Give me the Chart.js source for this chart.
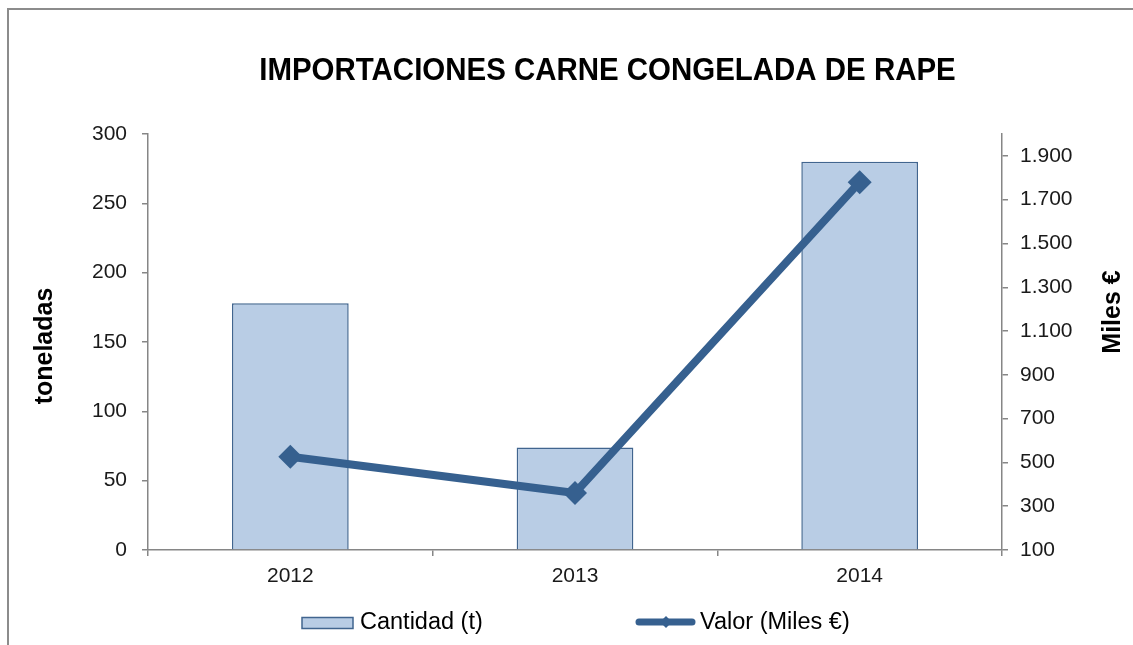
<!DOCTYPE html>
<html><head><meta charset="utf-8">
<script src="https://cdn.jsdelivr.net/npm/chart.js@4"></script>
<style>html,body{margin:0;padding:0;background:#fff}#wrap{width:1133px;height:645px}</style>
</head><body><div id="wrap"><canvas id="c" width="1133" height="645"></canvas></div>
<script>
const categories = ['2012', '2013', '2014'];
const cantidad = [178, 74, 280];
const valor = [526, 360, 1780];
const leftTicks = {min: 0, max: 300, step: 50};
const rightRange = {min: 100, max: 2000};
const rightTickValues = [100, 300, 500, 700, 900, 1100, 1300, 1500, 1700, 1900];
const titleText = 'IMPORTACIONES CARNE CONGELADA DE RAPE';
const leftAxisTitle = 'toneladas';
const rightAxisTitle = 'Miles €';
const seriesNames = ['Cantidad (t)', 'Valor (Miles €)'];

const FONT = "'Liberation Sans', Arial, sans-serif";
const AXIS = '#868686';
const TXT = '#1a1a1a';
const BAR_FILL = '#B9CDE5';
const BAR_BORDER = '#41658F';
const LINE = '#36608F';

function fmt(v) { return String(v).replace(/\B(?=(\d{3})+(?!\d))/g, '.'); }

const deco = {
  id: 'deco',
  beforeDraw(chart) {
    const ctx = chart.ctx;
    ctx.save();
    ctx.fillStyle = '#fff';
    ctx.fillRect(0, 0, chart.width, chart.height);
    ctx.strokeStyle = '#8c8c8c';
    ctx.lineWidth = 2;
    ctx.beginPath();
    ctx.moveTo(8, chart.height);
    ctx.lineTo(8, 9);
    ctx.lineTo(chart.width, 9);
    ctx.stroke();
    ctx.restore();
  },
  afterDraw(chart) {
    const ctx = chart.ctx;
    const ds0 = chart.data.datasets[0], ds1 = chart.data.datasets[1];

    // main title (slightly condensed)
    ctx.save();
    ctx.translate(607.5, 80);
    ctx.scale(0.95, 1);
    ctx.font = 'bold 31px ' + FONT;
    ctx.fillStyle = '#000';
    ctx.textAlign = 'center';
    ctx.textBaseline = 'alphabetic';
    ctx.fillText(titleText, 0, 0);
    ctx.restore();

    // left axis title
    ctx.save();
    ctx.translate(45, 346);
    ctx.rotate(-Math.PI / 2);
    ctx.font = 'bold 25px ' + FONT;
    ctx.fillStyle = '#000';
    ctx.textAlign = 'center';
    ctx.textBaseline = 'middle';
    ctx.fillText(leftAxisTitle, 0, 0);
    ctx.restore();

    // right axis title
    ctx.save();
    ctx.translate(1113, 312);
    ctx.rotate(-Math.PI / 2);
    ctx.font = 'bold 25px ' + FONT;
    ctx.fillStyle = '#000';
    ctx.textAlign = 'center';
    ctx.textBaseline = 'middle';
    ctx.fillText(rightAxisTitle, 0, 0);
    ctx.restore();

    // legend
    ctx.save();
    const ly = 623;
    ctx.fillStyle = ds0.backgroundColor;
    ctx.fillRect(302, ly - 5.5, 51, 11);
    ctx.strokeStyle = ds0.borderColor;
    ctx.lineWidth = 1.5;
    ctx.strokeRect(302, ly - 5.5, 51, 11);
    ctx.font = '23.5px ' + FONT;
    ctx.fillStyle = '#000';
    ctx.textAlign = 'left';
    ctx.textBaseline = 'middle';
    ctx.fillText(ds0.label, 360, ly);

    ctx.strokeStyle = ds1.borderColor;
    ctx.lineWidth = 7;
    ctx.lineCap = 'round';
    ctx.beginPath();
    ctx.moveTo(639, ly - 1);
    ctx.lineTo(692, ly - 1);
    ctx.stroke();
    ctx.fillStyle = ds1.borderColor;
    ctx.beginPath();
    ctx.moveTo(666 - 6, ly - 1);
    ctx.lineTo(666, ly - 7);
    ctx.lineTo(666 + 6, ly - 1);
    ctx.lineTo(666, ly + 5);
    ctx.closePath();
    ctx.fill();
    ctx.fillStyle = '#000';
    ctx.fillText(ds1.label, 700, ly);
    ctx.restore();
  }
};

new Chart(document.getElementById('c'), {
  data: {
    labels: categories,
    datasets: [
      {
        type: 'bar', label: seriesNames[0], data: cantidad, yAxisID: 'y',
        backgroundColor: BAR_FILL, borderColor: BAR_BORDER, borderWidth: 1.5,
        categoryPercentage: 1, barPercentage: 0.41, order: 2
      },
      {
        type: 'line', label: seriesNames[1], data: valor, yAxisID: 'y1',
        borderColor: LINE, backgroundColor: LINE, borderWidth: 8, tension: 0,
        pointStyle: 'rectRot', pointRadius: 12, pointBorderWidth: 0,
        pointBackgroundColor: LINE, order: 1
      }
    ]
  },
  options: {
    responsive: false, animation: false, devicePixelRatio: 1,
    layout: {padding: {top: 134, left: 0, right: 0, bottom: 0}},
    plugins: {
      legend: {display: false},
      tooltip: {enabled: false},
      title: {display: false}
    },
    scales: {
      x: {
        offset: true,
        grid: {offset: true, drawOnChartArea: false, drawTicks: true, tickLength: 6, color: AXIS, lineWidth: 1.5},
        border: {color: AXIS, width: 1.5},
        ticks: {font: {family: FONT, size: 21}, color: TXT, padding: 8},
        afterFit(s) { s.height = 95; }
      },
      y: {
        position: 'left', min: leftTicks.min, max: leftTicks.max,
        grid: {drawOnChartArea: false, drawTicks: true, tickLength: 6, color: AXIS, lineWidth: 1.5},
        border: {color: AXIS, width: 1.5},
        ticks: {stepSize: leftTicks.step, font: {family: FONT, size: 21}, color: TXT, padding: 15},
        afterFit(s) { s.width = 148; }
      },
      y1: {
        position: 'right', min: rightRange.min, max: rightRange.max,
        grid: {drawOnChartArea: false, drawTicks: true, tickLength: 6, color: AXIS, lineWidth: 1.5},
        border: {color: AXIS, width: 1.5},
        ticks: {font: {family: FONT, size: 21}, color: TXT, padding: 12,
          callback: (v) => fmt(v)},
        afterBuildTicks(s) { s.ticks = rightTickValues.map(v => ({value: v})); },
        afterFit(s) { s.width = 131; }
      }
    }
  },
  plugins: [deco]
});
</script>
</body></html>
